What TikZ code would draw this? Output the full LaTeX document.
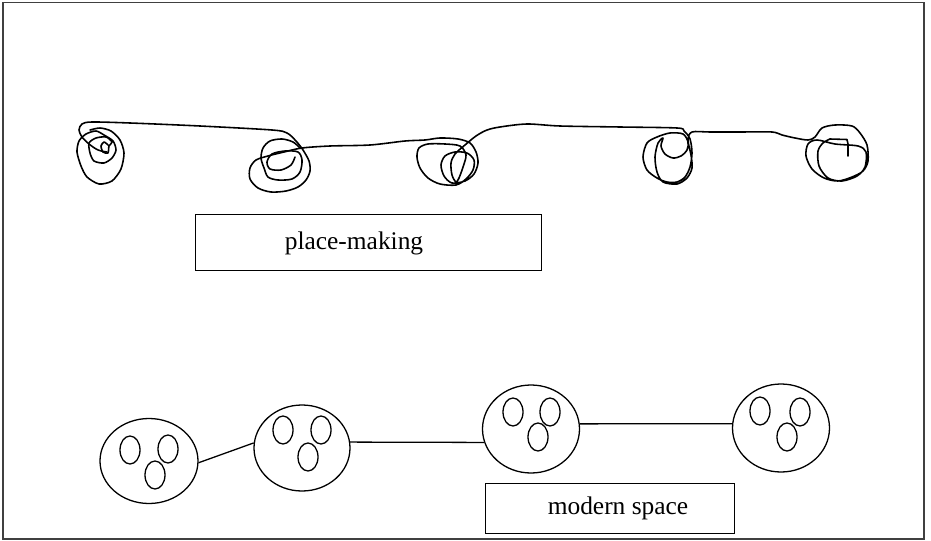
\documentclass[tikz,border=0pt]{standalone}
\usepackage{fontspec}
\setmainfont{Liberation Serif}
\usetikzlibrary{shapes.geometric}
\begin{document}
\begin{tikzpicture}[x=0.03cm,y=-0.03cm,
  scrib/.style={line width=1.35pt,line join=round,line cap=round},
  bigov/.style={draw,ellipse,line width=1.1pt,inner sep=0pt},
  smallov/.style={draw,ellipse,line width=1.1pt,inner sep=0pt,minimum width=0.6cm,minimum height=0.84cm},
  conn/.style={line width=1.1pt},
  labbox/.style={draw,rectangle,line width=0.8pt,inner sep=0pt},
  labtext/.style={inner sep=0pt,font=\fontsize{21.7}{24}\selectfont}]
\useasboundingbox (0,0) rectangle (931,541);
\draw[line width=1.2pt,black!75] (3,2.5) rectangle (924,539);

% ---- scribbles (place-making) ----
\draw[scrib] plot[smooth,tension=.45] coordinates {(108,145) (104,142) (101,146) (103,152) (108,153) (109,146) (112,142) (106,137) (96,138) (89,143) (90,153) (94,161) (104,163) (112,158) (116,150) (113,141) (104,135) (96,131) (86,134) (79,141) (77,152) (81,166) (87,177) (99,184) (112,181) (121,169) (124,153) (120,140) (111,131) (100,128) (90,130)};
\draw[scrib] plot[smooth,tension=.5] coordinates {(107,152) (98,150) (89,144) (82,137) (79,130) (82,124) (92,122) (130,123) (200,126) (272,130) (287,133) (296,141) (303,150) (309,161) (310,171) (306,180) (298,187) (286,191) (271,192) (258,188) (250,179) (250,168) (256,160) (268,156) (284,152) (302,148) (330,146) (370,145) (405,141) (425,140) (440,138) (458,139) (470,143) (476,152) (478,163) (474,174) (465,181) (452,183) (444,176) (441,165) (445,156) (455,152) (467,153) (474,160) (473,170) (466,179) (456,185) (440,184) (428,178) (420,168) (417,157) (419,148) (428,144) (445,144) (460,146) (466,155) (463,167) (459,178) (456,182) (452,175) (451,163) (455,154) (465,145) (476,136) (487,130) (500,127) (527,124) (560,126) (620,127) (677,128) (684,131) (690,139) (692,153) (690,167) (685,177) (677,182) (667,182) (657,178) (647,170) (643,157) (647,143) (657,137) (670,133) (683,134) (688,142) (687,150) (681,156) (673,158) (665,154) (661,146) (663,138) (658,143) (655,157) (657,172) (663,182) (677,184) (687,178) (692,168) (691,155) (688,140) (692,132) (710,132) (740,132) (772,132) (782,135) (795,138) (808,140) (815,137) (822,128) (835,125) (852,126) (860,133) (867,145) (868,161) (863,171) (852,177) (838,181) (824,178) (812,169) (806,156) (808,144) (817,140) (835,144) (858,146) (866,152) (865,167) (857,176) (842,181) (828,178) (819,166) (818,151) (823,143) (830,139)};
\draw[scrib] plot[smooth,tension=.5] coordinates {(300,148) (293,142) (282,139) (270,141) (263,148) (261,158) (264,168) (268,177) (278,180) (292,179) (300,172) (302,160) (298,152) (285,151) (272,154) (267,162) (270,169) (281,170) (291,165) (295,157)};
\draw[scrib] (830,139) -- (847,139.5) -- (848,144) -- (848,156);

\node[labbox,minimum width=10.38cm,minimum height=1.68cm] (pm) at (368,242) {};
\node[labtext] (pmt) at (354,243) {place-making};

% ---- modern space ----
\node[bigov,minimum width=2.94cm,minimum height=2.55cm] (e1) at (149,461) {};
\node[bigov,minimum width=2.88cm,minimum height=2.58cm] (e2) at (302,448) {};
\node[bigov,minimum width=2.91cm,minimum height=2.64cm] (e3) at (531,429) {};
\node[bigov,minimum width=2.91cm,minimum height=2.64cm] (e4) at (781,428) {};

\node[smallov] (a1) at (130,450) {};
\node[smallov] (b1) at (168,449) {};
\node[smallov] (c1) at (155,475) {};
\node[smallov] (a2) at (283,430) {};
\node[smallov] (b2) at (321,430) {};
\node[smallov] (c2) at (308,457) {};
\node[smallov] (a3) at (513,412) {};
\node[smallov] (b3) at (550,412) {};
\node[smallov] (c3) at (538,437) {};
\node[smallov] (a4) at (760,411) {};
\node[smallov] (b4) at (800,412) {};
\node[smallov] (c4) at (787,437) {};

\draw[conn] (e1.-2) -- (e2.174);
\draw[conn] (e2.7) -- (e3.196);
\draw[conn] (e3.6) -- (e4.175);

\node[labbox,minimum width=7.47cm,minimum height=1.5cm] (ms) at (609.5,508) {};
\node[labtext] (mst) at (618,508) {modern space};
\end{tikzpicture}
\end{document}
